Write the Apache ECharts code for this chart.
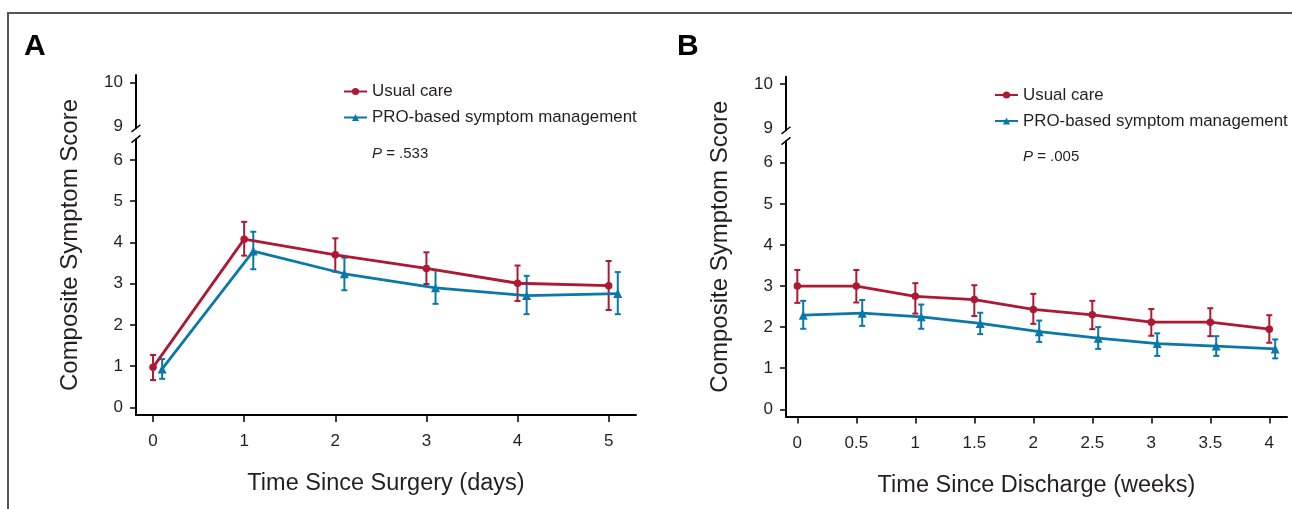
<!DOCTYPE html>
<html>
<head>
<meta charset="utf-8">
<script src="https://cdn.jsdelivr.net/npm/echarts@6/dist/echarts.min.js"></script>
<style>
html,body{margin:0;padding:0;background:#fff;}
#chart{width:1292px;height:509px;}
</style>
</head>
<body>
<div id="chart"></div>
<script>
// ---------- data ----------
const daysA = [0, 1, 2, 3, 4, 5];
const usualA = [0.97, 4.08, 3.70, 3.37, 3.01, 2.95];
const usualALo = [0.66, 3.68, 3.29, 2.99, 2.58, 2.36];
const usualAHi = [1.27, 4.50, 4.10, 3.76, 3.44, 3.55];
const proA = [0.93, 3.79, 3.24, 2.90, 2.71, 2.76];
const proALo = [0.69, 3.35, 2.84, 2.51, 2.26, 2.26];
const proAHi = [1.17, 4.26, 3.63, 3.33, 3.19, 3.28];

const weeksB = [0, 0.5, 1, 1.5, 2, 2.5, 3, 3.5, 4];
const usualB = [3.00, 3.00, 2.75, 2.67, 2.43, 2.30, 2.12, 2.12, 1.95];
const usualBLo = [2.59, 2.60, 2.33, 2.27, 2.08, 1.95, 1.79, 1.78, 1.62];
const usualBHi = [3.39, 3.39, 3.07, 3.02, 2.81, 2.64, 2.44, 2.46, 2.29];
const proB = [2.29, 2.34, 2.25, 2.09, 1.89, 1.73, 1.60, 1.54, 1.47];
const proBLo = [1.96, 2.03, 1.96, 1.83, 1.64, 1.47, 1.30, 1.30, 1.24];
const proBHi = [2.64, 2.66, 2.55, 2.35, 2.16, 2.00, 1.85, 1.78, 1.70];

const yTicksLower = [0, 1, 2, 3, 4, 5, 6];
const yTicksUpper = [9, 10];
const seriesNames = ['Usual care', 'PRO-based symptom management'];
const pTextA = '.533';
const pTextB = '.005';

// ---------- style / layout ----------
const RED = '#ad1832';
const BLUE = '#0a78a8';
const TXT = '#231f20';
const FONT = 'Liberation Sans';
const dodgeA = 0.1;
const dodgeB = 0.05;

const chart = echarts.init(document.getElementById('chart'));

function pairs(xs, ys, off) { return xs.map((x, i) => [x + off, ys[i]]); }
function triples(xs, lo, hi, off) { return xs.map((x, i) => [x + off, lo[i], hi[i]]); }

function errRender(color) {
  return function (params, api) {
    const x = api.value(0), lo = api.value(1), hi = api.value(2);
    const a = api.coord([x, lo]), b = api.coord([x, hi]);
    const hw = 3;
    const st = { stroke: color, lineWidth: 2 };
    return {
      type: 'group',
      children: [
        { type: 'line', shape: { x1: a[0], y1: a[1], x2: b[0], y2: b[1] }, style: st },
        { type: 'line', shape: { x1: a[0] - hw, y1: a[1], x2: a[0] + hw, y2: a[1] }, style: st },
        { type: 'line', shape: { x1: b[0] - hw, y1: b[1], x2: b[0] + hw, y2: b[1] }, style: st }
      ]
    };
  };
}

const axisLineStyle = { color: '#000', width: 2 };
const tickLabel = { color: TXT, fontSize: 17, fontFamily: FONT };

// panel geometry
const P = {
  A: { left: 136, width: 500, lowTop: 139, lowBottom: 94, upTop: 75, upBottom: 509 - 128.3,
       xMin: -0.187, xMax: 5.3, yMin: -0.187, yMax: 6.51, uMin: 8.947, uMax: 10.178,
       xTicks: daysA, xTitle: 'Time Since Surgery (days)' },
  B: { left: 786, width: 501, lowTop: 141, lowBottom: 92.5, upTop: 76.7, upBottom: 509 - 130.3,
       xMin: -0.096, xMax: 4.15, yMin: -0.175, yMax: 6.53, uMin: 8.955, uMax: 10.165,
       xTicks: weeksB, xTitle: 'Time Since Discharge (weeks)' }
};

const grid = [], xAxis = [], yAxis = [];
['A', 'B'].forEach(k => {
  const p = P[k];
  // lower grid
  grid.push({ left: p.left, width: p.width, top: p.lowTop, bottom: p.lowBottom });
  xAxis.push({
    type: 'value', gridIndex: grid.length - 1, min: p.xMin, max: p.xMax,
    axisLine: { show: true, onZero: false, lineStyle: axisLineStyle },
    axisTick: { show: true, customValues: p.xTicks, length: 7, lineStyle: { color: '#000', width: 1.5 } },
    axisLabel: { customValues: p.xTicks, margin: 18, ...tickLabel },
    splitLine: { show: false },
    name: p.xTitle, nameLocation: 'middle', nameGap: 57,
    nameTextStyle: { color: TXT, fontSize: 23.5, fontFamily: FONT }
  });
  yAxis.push({
    type: 'value', gridIndex: grid.length - 1, min: p.yMin, max: p.yMax,
    axisLine: { show: true, onZero: false, lineStyle: axisLineStyle },
    axisTick: { show: true, customValues: yTicksLower, length: 6, lineStyle: { color: '#000', width: 1.5 } },
    axisLabel: { customValues: yTicksLower, margin: 13, ...tickLabel },
    splitLine: { show: false }
  });
  // upper grid
  grid.push({ left: p.left, width: p.width, top: p.upTop, bottom: p.upBottom });
  xAxis.push({ type: 'value', gridIndex: grid.length - 1, show: false, min: 0, max: 1 });
  yAxis.push({
    type: 'value', gridIndex: grid.length - 1, min: p.uMin, max: p.uMax,
    axisLine: { show: true, lineStyle: axisLineStyle },
    axisTick: { show: true, customValues: [10], length: 6, lineStyle: { color: '#000', width: 1.5 } },
    axisLabel: { customValues: yTicksUpper, margin: 13, ...tickLabel },
    splitLine: { show: false }
  });
  // title grid (whole axis height)
  grid.push({ left: p.left, width: p.width, top: p.upTop, bottom: p.lowBottom });
  xAxis.push({ type: 'value', gridIndex: grid.length - 1, show: false, min: 0, max: 1 });
  yAxis.push({
    type: 'value', gridIndex: grid.length - 1, min: 0, max: 1,
    axisLine: { show: false }, axisTick: { show: false }, axisLabel: { show: false }, splitLine: { show: false },
    name: 'Composite Symptom Score', nameLocation: 'middle', nameGap: 54,
    nameTextStyle: { color: TXT, fontSize: 24, fontFamily: FONT }
  });
});

function lineSeries(name, data, color, symbol, size, axisIdx) {
  return {
    type: 'line', name, data, xAxisIndex: axisIdx, yAxisIndex: axisIdx,
    symbol, symbolSize: size, showSymbol: true,
    lineStyle: { color, width: 2.8 }, itemStyle: { color },
    emphasis: { disabled: true }, z: 3, animation: false
  };
}
function errSeries(data, color, axisIdx) {
  return {
    type: 'custom', data, xAxisIndex: axisIdx, yAxisIndex: axisIdx,
    renderItem: errRender(color), encode: { x: 0, y: [1, 2] }, z: 2, animation: false, silent: true
  };
}

const series = [
  errSeries(triples(daysA, usualALo, usualAHi, 0), RED, 0),
  errSeries(triples(daysA, proALo, proAHi, dodgeA), BLUE, 0),
  lineSeries(seriesNames[0], pairs(daysA, usualA, 0), RED, 'circle', 7.5, 0),
  lineSeries(seriesNames[1], pairs(daysA, proA, dodgeA), BLUE, 'triangle', 9, 0),
  errSeries(triples(weeksB, usualBLo, usualBHi, 0), RED, 3),
  errSeries(triples(weeksB, proBLo, proBHi, dodgeB), BLUE, 3),
  lineSeries(seriesNames[0], pairs(weeksB, usualB, 0), RED, 'circle', 7.5, 3),
  lineSeries(seriesNames[1], pairs(weeksB, proB, dodgeB), BLUE, 'triangle', 9, 3)
];

function legendAt(left, top) {
  return {
    data: seriesNames, orient: 'vertical', left, top, itemWidth: 23, itemHeight: 9, itemGap: 8,
    selectedMode: false, lineStyle: { width: 2 },
    textStyle: { color: TXT, fontSize: 16.9, fontFamily: FONT, lineHeight: 18 }
  };
}

function pTitle(left, top, val) {
  return {
    text: '{i|P}{n| = ' + val + '}', left, top,
    textStyle: { fontWeight: 'normal', rich: {
      i: { fontStyle: 'italic', fontWeight: 'normal', fontSize: 15, color: TXT, fontFamily: FONT },
      n: { fontWeight: 'normal', fontSize: 15, color: TXT, fontFamily: FONT } } }
  };
}

const option = {
  animation: false,
  title: [
    { text: 'A', left: 19, top: 27, textStyle: { fontSize: 30, fontWeight: 'bold', color: '#000', fontFamily: FONT } },
    { text: 'B', left: 672, top: 27, textStyle: { fontSize: 30, fontWeight: 'bold', color: '#000', fontFamily: FONT } },
    pTitle(367, 141.5, pTextA),
    pTitle(1018, 144.5, pTextB)
  ],
  legend: [legendAt(338, 77.5), legendAt(989, 81)],
  grid, xAxis, yAxis, series,
  graphic: [
    { type: 'rect', silent: true, shape: { x: 8, y: 13, width: 1400, height: 700 },
      style: { fill: 'none', stroke: '#555', lineWidth: 2 } }
  ]
};
chart.setOption(option);

// axis break marks, placed from the axes' own scales
const marks = [];
[[0, 1, 'A'], [3, 4, 'B']].forEach(([lo, up, k]) => {
  const p = P[k];
  const x = chart.convertToPixel({ xAxisIndex: lo }, p.xMin);
  const yUp = chart.convertToPixel({ yAxisIndex: up }, p.uMin);
  const yLo = chart.convertToPixel({ yAxisIndex: lo }, p.yMax);
  [yUp, yLo].forEach(y => {
    marks.push({ type: 'line', silent: true, z: 10,
      shape: { x1: x - 4.5, y1: y + 3.6, x2: x + 4.5, y2: y - 3.6 },
      style: { stroke: '#000', lineWidth: 1.4 } });
  });
});
chart.setOption({ graphic: option.graphic.concat(marks) });
</script>
</body>
</html>
